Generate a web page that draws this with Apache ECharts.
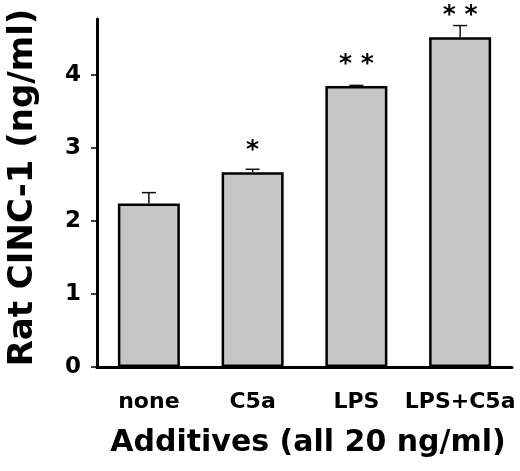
<!DOCTYPE html>
<html>
<head>
<meta charset="utf-8">
<script src="https://cdn.jsdelivr.net/npm/echarts@6/dist/echarts.min.js"></script>
<style>
html,body{margin:0;padding:0;background:#fff;}
#c{width:520px;height:471px;}
</style>
</head>
<body>
<div id="c"></div>
<script>
var categories = ['none', 'C5a', 'LPS', 'LPS+C5a'];
var means = [2.24, 2.67, 3.85, 4.52];
var errors = [0.15, 0.04, 0.01, 0.16];
var marks = ['', '*', '* *', '* *'];
var yTicks = [0, 1, 2, 3, 4];
var yMax = 4.77;

var FONT = 'DejaVu Sans';
var chart = echarts.init(document.getElementById('c'), null, {renderer: 'canvas'});
chart.setOption({
  animation: false,
  backgroundColor: '#ffffff',
  grid: {left: 97, right: 8, top: 19, bottom: 104, containLabel: false, outerBoundsMode: 'none'},
  xAxis: {
    type: 'category',
    data: categories,
    boundaryGap: true,
    name: 'Additives (all 20 ng/ml)',
    nameLocation: 'middle',
    nameGap: 61,
    nameTextStyle: {fontFamily: FONT, fontWeight: 'bold', fontSize: 30, color: '#000', padding: [0, 0, 0, 7]},
    axisLine: {lineStyle: {color: '#000', width: 3}},
    axisTick: {alignWithLabel: true, length: 6, lineStyle: {color: '#000', width: 1.5}},
    axisLabel: {interval: 0, hideOverlap: false, fontFamily: FONT, fontWeight: 'bold', fontSize: 22, color: '#000', margin: 24}
  },
  yAxis: {
    type: 'value',
    min: 0,
    max: yMax,
    interval: 1,
    name: 'Rat CINC-1 (ng/ml)',
    nameLocation: 'middle',
    nameGap: 57,
    nameTextStyle: {fontFamily: FONT, fontWeight: 'bold', fontSize: 34, color: '#000', padding: [0, 0, 0, 11]},
    splitLine: {show: false},
    axisLine: {show: true, lineStyle: {color: '#000', width: 3}},
    axisTick: {show: true, length: 6, customValues: yTicks, lineStyle: {color: '#000', width: 1.5}},
    axisLabel: {fontFamily: FONT, fontWeight: 'bold', fontSize: 23, color: '#000', margin: 16, customValues: yTicks}
  },
  series: [
    {
      type: 'bar',
      data: means,
      barWidth: 62,
      itemStyle: {color: '#c6c6c6', borderColor: '#000', borderWidth: 2.5},
      label: {
        show: true,
        position: 'top',
        distance: 9,
        fontFamily: FONT,
        fontWeight: 'bold',
        fontSize: 25,
        color: '#000',
        formatter: function (p) { return marks[p.dataIndex]; }
      },
      z: 2
    },
    {
      type: 'custom',
      data: means.map(function (m, i) { return [i, m, m + errors[i]]; }),
      renderItem: function (params, api) {
        var lo = api.coord([api.value(0), api.value(1)]);
        var hi = api.coord([api.value(0), api.value(2)]);
        var w = 7;
        return {
          type: 'group',
          children: [
            {type: 'line', shape: {x1: lo[0], y1: lo[1], x2: hi[0], y2: hi[1]}, style: {stroke: '#111', lineWidth: 1.5}},
            {type: 'line', shape: {x1: hi[0] - w, y1: hi[1], x2: hi[0] + w, y2: hi[1]}, style: {stroke: '#111', lineWidth: 1.5}}
          ]
        };
      },
      z: 3
    }
  ]
});
</script>
</body>
</html>
